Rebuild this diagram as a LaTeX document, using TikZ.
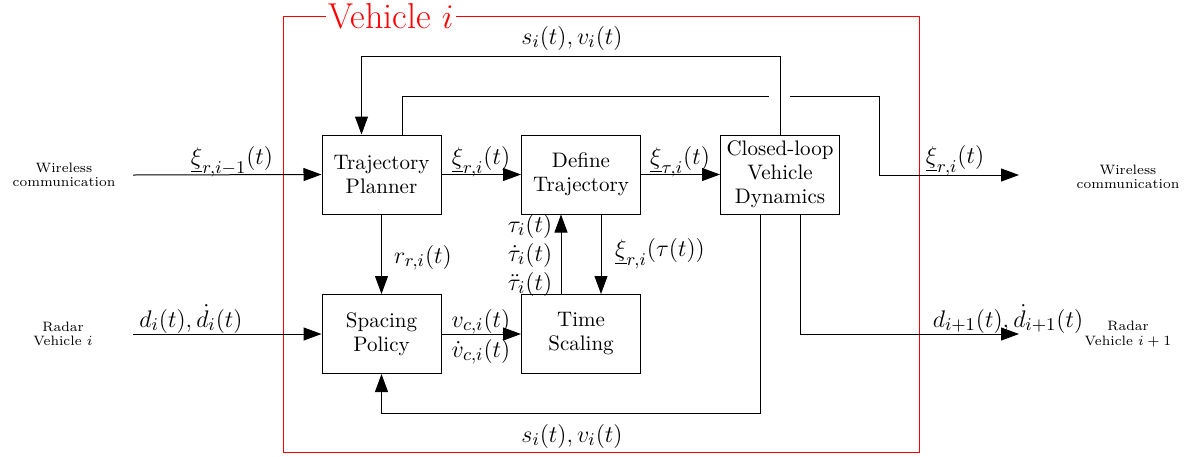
\documentclass[tikz,border=0pt]{standalone}
\usepackage{fontspec}
\usetikzlibrary{arrows.meta,calc}
\begin{document}
\begin{tikzpicture}[x=0.5pt,y=-0.5pt,
  blk/.style={draw, line width=0.5pt, minimum width=59.5pt, minimum height=39.5pt, align=center, inner sep=0pt, font=\fontsize{10.5}{12}\selectfont},
  arr/.style={line width=0.5pt, -{Triangle[length=9pt,width=6.5pt]}},
  ln/.style={line width=0.5pt},
  lbl/.style={inner sep=0pt, anchor=base, font=\fontsize{12.5}{15}\selectfont},
  small/.style={align=center, inner sep=0pt, font=\fontsize{6.8}{7.2}\selectfont\addfontfeature{LetterSpace=7}}
]
\useasboundingbox (0,0) rectangle (1199,456);

% red frame
\draw[red, line width=0.5pt] (283,16) rectangle (919,452);
\node[fill=white, text=red, inner sep=1.5pt, font=\fontsize{18}{20}\selectfont] (title) at (391,16) {Vehicle $i$};

% blocks
\node[blk] (tp) at (381.5,174.5) {Trajectory\\Planner};
\node[blk] (dt) at (581,174.5) {Define\\Trajectory};
\node[blk] (cl) at (780,174.5) {Closed-loop\\Vehicle\\Dynamics};
\node[blk] (sp) at (381.5,334) {Spacing\\Policy};
\node[blk] (ts) at (581,334) {Time\\Scaling};

% outside texts
\node[small] (wl) at (64,175) {Wireless\\communication};
\node[small] (rl) at (63,334) {Radar\\Vehicle $i$};
\node[small] (wr) at (1128,177) {Wireless\\communication};
\node[small] (rr) at (1128,334) {Radar\\Vehicle $i+1$};

% free ends
\coordinate (win) at (133,175);
\coordinate (rin) at (133,334);
\coordinate (wout) at (1019,175);
\coordinate (rout) at (1019,334);
\coordinate (gapL) at (769,96);
\coordinate (gapR) at (790,96);
\coordinate (tp1) at ([xshift=-10pt]tp.north);
\coordinate (tp2) at ([xshift=10.5pt]tp.north);
\coordinate (dt1) at ([xshift=-10pt]dt.south);
\coordinate (dt2) at ([xshift=10pt]dt.south);
\coordinate (ts1) at ([xshift=-10pt]ts.north);
\coordinate (ts2) at ([xshift=10pt]ts.north);
\coordinate (cl1) at ([xshift=-10pt]cl.south);
\coordinate (cl2) at ([xshift=10pt]cl.south);

% connectors
\draw[arr] (win) -- (tp.west);
\draw[arr] (rin) -- (sp.west);
\draw[arr] (tp.east) -- (dt.west);
\draw[arr] (dt.east) -- (cl.west);
\draw[arr] (tp.south) -- (sp.north);
\draw[arr] (sp.east) -- (ts.west);
\draw[arr] (ts1) -- (dt1);
\draw[arr] (dt2) -- (ts2);
\draw[arr] (cl.north) |- (tp1 |- 0,56) -- (tp1);
\draw[ln] (tp2) |- (gapL);
\draw[arr] (gapR) -| (wout -| 879,0) -- (wout);
\draw[arr] (cl1) |- (sp.south |- 0,413) -- (sp.south);
\draw[arr] (cl2) |- (rout);

% labels
\node[lbl] (l1) at (232,164) {$\underline{\xi}_{r,i-1}(t)$};
\node[lbl] (l2) at (191,327) {$d_i(t),\dot{d}_i(t)$};
\node[lbl] (l3) at (481,164) {$\underline{\xi}_{r,i}(t)$};
\node[lbl] (l4) at (680,164) {$\underline{\xi}_{\tau,i}(t)$};
\node[lbl] (l5) at (423,263) {$r_{r,i}(t)$};
\node[lbl] (l6) at (481,327) {$v_{c,i}(t)$};
\node[lbl] (l7) at (481,357) {$\dot{v}_{c,i}(t)$};
\node[lbl] (l8) at (530,232) {$\tau_i(t)$};
\node[lbl] (l9) at (530,261) {$\dot{\tau}_i(t)$};
\node[lbl] (l10) at (530,290) {$\ddot{\tau}_i(t)$};
\node[lbl] (l11) at (660,256) {$\underline{\xi}_{r,i}(\tau(t))$};
\node[lbl] (l12) at (572,44) {$s_i(t),v_i(t)$};
\node[lbl] (l13) at (572,442) {$s_i(t),v_i(t)$};
\node[lbl] (l14) at (955,163) {$\underline{\xi}_{r,i}(t)$};
\node[lbl] (l15) at (1008,327) {$d_{i+1}(t),\dot{d}_{i+1}(t)$};
\end{tikzpicture}
\end{document}
